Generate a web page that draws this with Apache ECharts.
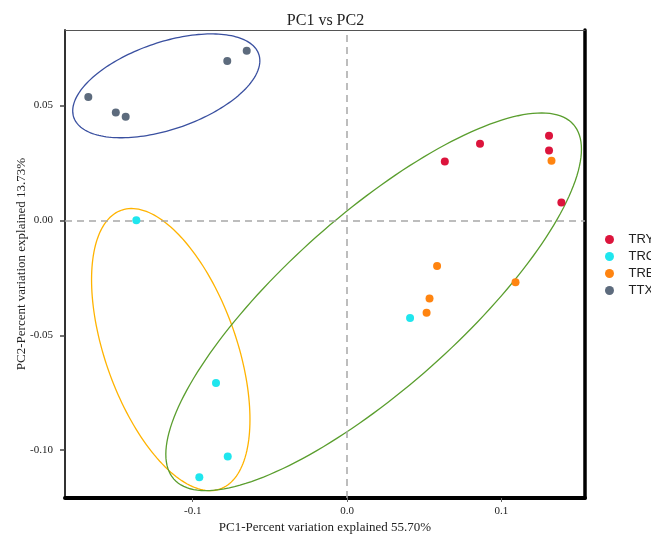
<!DOCTYPE html>
<html>
<head>
    <meta charset="utf-8">
    <title>PC1 vs PC2</title>
    <script src="https://cdn.jsdelivr.net/npm/echarts@6/dist/echarts.min.js"></script>
</head>
<body style="margin:0">
<div id="main" style="width: 651px;height:539px;"></div>
<script type="text/javascript">
    // group names and colours
    const groups = ['TRY', 'TRC', 'TRB', 'TTX'];
    const groupColors = ['#dc143c', '#1fe6ee', '#ff8410', '#5d6b7d'];

    // [PC1, PC2] scores per group
    const tryPoints = [[0.0633, 0.0257], [0.0861, 0.0334], [0.1308, 0.0369], [0.1308, 0.0304], [0.1388, 0.0078]];
    const trcPoints = [[0.0408, -0.0425], [-0.1365, 0.0001], [-0.0849, -0.0707], [-0.0773, -0.1027], [-0.0957, -0.1118]];
    const trbPoints = [[0.1324, 0.0260], [0.0583, -0.0198], [0.1091, -0.0269], [0.0534, -0.0340], [0.0515, -0.0402]];
    const ttxPoints = [[-0.1676, 0.0537], [-0.1498, 0.0470], [-0.1434, 0.0451], [-0.0776, 0.0694], [-0.0650, 0.0739]];

    // ellipses: centre x, centre y, half width, half height, y offset of the rightmost point
    const ellipseBlue = [-0.1171, 0.0586, 0.0606, 0.0226, 0.0109];
    const ellipseYellow = [-0.1142, -0.0562, 0.0513, 0.0614, -0.0304];
    const ellipseGreen = [0.0172, -0.0354, 0.1346, 0.0822, 0.0664];
    const ellipseColors = ['#3a50a0', '#ffb300', '#5a9e2e'];

    const xTicks = [-0.1, 0, 0.1];
    const yTicks = [-0.10, -0.05, 0.00, 0.05];

    const serif = 'Liberation Serif';

    function drawEllipse(params, api) {
        const cx = api.value(0), cy = api.value(1), w = api.value(2), h = api.value(3), r = api.value(4);
        const k = Math.sqrt(h * h - r * r);
        const pts = [];
        for (let i = 0; i <= 180; i++) {
            const t = i / 180 * Math.PI * 2;
            pts.push(api.coord([cx + w * Math.cos(t), cy + r * Math.cos(t) + k * Math.sin(t)]));
        }
        return {
            type: 'polyline',
            shape: {points: pts},
            style: {stroke: ellipseColors[params.dataIndex], fill: 'none', lineWidth: 1.3}
        };
    }

    let myChart = echarts.init(document.getElementById('main'));

    const pointSets = [tryPoints, trcPoints, trbPoints, ttxPoints];
    const series = pointSets.map(function (pts, i) {
        return {
            name: groups[i],
            type: 'scatter',
            symbolSize: 8,
            itemStyle: {color: groupColors[i], opacity: 1},
            data: pts,
            z: 5
        };
    });
    series.unshift({
        type: 'custom',
        renderItem: drawEllipse,
        data: [ellipseBlue, ellipseYellow, ellipseGreen],
        silent: true,
        z: 3,
        markLine: {
            silent: true,
            symbol: 'none',
            label: {show: false},
            lineStyle: {color: '#a8a8a8', type: [7, 5], width: 1.5},
            data: [{xAxis: 0}, {yAxis: 0}]
        }
    });

    myChart.setOption({
        animation: false,
        title: {
            text: 'PC1 vs PC2',
            left: 'center',
            top: 8,
            textStyle: {fontFamily: serif, fontSize: 16, fontWeight: 'normal', color: '#222'}
        },
        legend: {
            data: groups,
            orient: 'vertical',
            left: 600,
            top: 228,
            itemWidth: 20,
            itemHeight: 9,
            itemGap: 4,
            icon: 'circle',
            textStyle: {fontFamily: 'Liberation Sans', fontSize: 13, color: '#222', padding: [0, 0, 0, 4]}
        },
        grid: {left: 65, right: 66, top: 30, bottom: 40},
        xAxis: [{
            type: 'value',
            min: -0.1827,
            max: 0.1541,
            name: 'PC1-Percent variation explained 55.70%',
            nameLocation: 'middle',
            nameGap: 23,
            nameMoveOverlap: false,
            nameTextStyle: {fontFamily: serif, fontSize: 13, color: '#222'},
            axisLine: {onZero: false, lineStyle: {color: '#000', width: 4}},
            axisTick: {customValues: xTicks, length: 4, lineStyle: {color: '#666'}},
            axisLabel: {
                customValues: xTicks,
                margin: 8,
                fontFamily: serif, fontSize: 11, color: '#222',
                formatter: function (v) { return v.toFixed(1); }
            },
            splitLine: {show: false}
        }, {
            type: 'value',
            position: 'top',
            min: -0.1827,
            max: 0.1541,
            axisLine: {onZero: false, lineStyle: {color: '#555', width: 1}},
            axisTick: {show: false},
            axisLabel: {show: false},
            splitLine: {show: false}
        }],
        yAxis: [{
            type: 'value',
            min: -0.1208,
            max: 0.0829,
            name: 'PC2-Percent variation explained 13.73%',
            nameLocation: 'middle',
            nameGap: 37,
            nameMoveOverlap: false,
            nameTextStyle: {fontFamily: serif, fontSize: 13, color: '#222'},
            axisLine: {onZero: false, lineStyle: {color: '#333', width: 2}},
            axisTick: {customValues: yTicks, length: 5, lineStyle: {color: '#444', width: 1.5}},
            axisLabel: {
                customValues: yTicks,
                margin: 12,
                fontFamily: serif, fontSize: 11, color: '#222',
                formatter: function (v) { return v.toFixed(2); }
            },
            splitLine: {show: false}
        }, {
            type: 'value',
            position: 'right',
            min: -0.1208,
            max: 0.0829,
            axisLine: {show: true, onZero: false, lineStyle: {color: '#000', width: 3.5}},
            axisTick: {show: false},
            axisLabel: {show: false},
            splitLine: {show: false}
        }],
        series: series
    });
</script>
</body>
</html>
